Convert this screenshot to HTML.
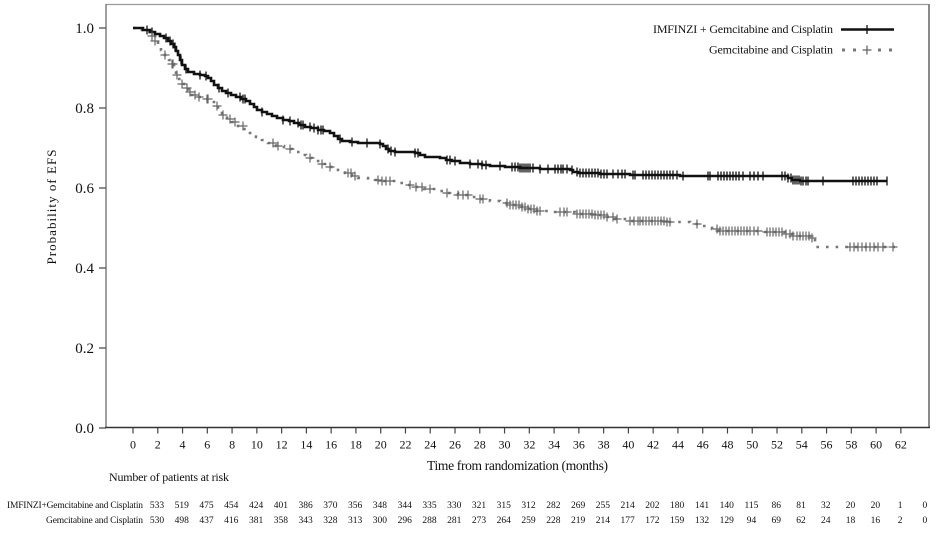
<!DOCTYPE html>
<html>
<head>
<meta charset="utf-8">
<style>
html,body{margin:0;padding:0;background:#fff;}
body{width:947px;height:538px;overflow:hidden;}
svg{display:block;font-family:"Liberation Serif",serif;}
</style>
</head>
<body>
<svg id="s" width="947" height="538" viewBox="0 0 947 538" xmlns="http://www.w3.org/2000/svg">
<rect width="947" height="538" fill="#fff"/>
<!-- frame -->
<line x1="106" y1="4.5" x2="929" y2="4.5" stroke="#9a9a9a" stroke-width="1.2"/>
<line x1="929" y1="4" x2="929" y2="428" stroke="#8a8a8a" stroke-width="2"/>
<line x1="106" y1="4" x2="106" y2="428" stroke="#777" stroke-width="1.4"/>
<line x1="105" y1="427.5" x2="930" y2="427.5" stroke="#333" stroke-width="1.4"/>
<!-- y ticks -->
<g stroke="#444" stroke-width="1.2">
<line x1="99" y1="28" x2="106" y2="28"/>
<line x1="99" y1="108" x2="106" y2="108"/>
<line x1="99" y1="188" x2="106" y2="188"/>
<line x1="99" y1="268" x2="106" y2="268"/>
<line x1="99" y1="348" x2="106" y2="348"/>
<line x1="99" y1="428" x2="106" y2="428"/>
</g>
<g font-size="15" text-anchor="end" fill="#111">
<text x="94" y="33">1.0</text>
<text x="94" y="113">0.8</text>
<text x="94" y="193">0.6</text>
<text x="94" y="273">0.4</text>
<text x="94" y="353">0.2</text>
<text x="94" y="433">0.0</text>
</g>
<text transform="translate(56,207) rotate(-90)" font-size="13" text-anchor="middle" fill="#111" textLength="115">Probability of EFS</text>
<g id="xt" stroke="#444" stroke-width="1.2"></g>
<g id="xl" font-size="12" text-anchor="middle" fill="#111"></g>
<text x="517.5" y="470" font-size="13.5" text-anchor="middle" fill="#111" textLength="181">Time from randomization (months)</text>
<text x="109" y="481" font-size="12" fill="#111" textLength="120">Number of patients at risk</text>
<text x="143" y="508" font-size="9.5" text-anchor="end" fill="#111" textLength="136">IMFINZI+Gemcitabine and Cisplatin</text>
<text x="143" y="523" font-size="9.5" text-anchor="end" fill="#111" textLength="97">Gemcitabine and Cisplatin</text>
<g id="r1" font-size="9.5" text-anchor="middle" fill="#111"></g>
<g id="r2" font-size="9.5" text-anchor="middle" fill="#111"></g>

<!-- legend -->
<text x="833" y="33" font-size="12" text-anchor="end" fill="#111" textLength="180">IMFINZI + Gemcitabine and Cisplatin</text>
<text x="833" y="53.5" font-size="12" text-anchor="end" fill="#111" textLength="124">Gemcitabine and Cisplatin</text>
<line x1="841" y1="29.5" x2="894" y2="29.5" stroke="#111" stroke-width="2.6"/>
<line x1="867" y1="25" x2="867" y2="34" stroke="#111" stroke-width="1.3"/>
<g fill="#777">
<rect x="842" y="48.5" width="3" height="3"/>
<rect x="853" y="48.5" width="3" height="3"/>
<rect x="878" y="48.5" width="3" height="3"/>
<rect x="889" y="48.5" width="3" height="3"/>
</g>
<g stroke="#666" stroke-width="1.3">
<line x1="862.5" y1="50" x2="871.5" y2="50"/>
<line x1="867" y1="45.5" x2="867" y2="54.5"/>
</g>

<!-- gray curve -->
<path id="gp" fill="none" stroke="#777" stroke-width="2.6" stroke-dasharray="2.6 7" d="M133,28 H140 V30 H148 V32 H152 V36 H155 V41 H158 V46 H161 V50 H165 V55 H169 V60 H172 V64 H174 V70 H176 V75 H178 V79 H181 V84 H184 V88 H188 V92 H192 V95 H197 V97 H205 V99 H210 V102 H214 V106 H218 V110 H222 V115 H227 V119 H232 V122 H238 V126 H244 V129 H250 V133 H256 V137 H262 V140 H268 V143 H276 V146 H284 V149 H292 V152 H300 V155 H306 V158 H312 V161 H320 V164 H330 V167 H338 V170 H345 V173 H352 V176 H358 V178 H368 V180 H380 V181 H398 V183 H406 V185 H414 V187 H424 V189 H436 V191 H446 V193 H458 V195 H470 V197 H480 V199 H490 V201 H500 V203 H510 V205 H520 V207 H528 V209 H536 V211 H550 V212 H575 V214 H595 V215 H605 V217 H615 V219 H628 V221 H665 V222 H690 V224 H700 V226 H712 V229 H718 V231 H760 V232 H785 V234 H793 V236 H812 V238 H815 V247 H895"/>
<!-- black curve -->
<path id="bp" fill="none" stroke="#111" stroke-width="2.6" d="M133,28 H143 V30 H150 V32 H155 V34 H160 V36 H164 V38 H168 V41 H171 V44 H174 V47 H176 V51 H178 V55 H180 V60 H182 V65 H185 V69 H188 V72 H194 V74 H200 V75 H205 V76 H208 V78 H211 V81 H214 V85 H218 V88 H222 V91 H226 V93 H231 V95 H236 V97 H241 V99 H246 V101 H250 V104 H254 V107 H257 V110 H262 V112 H267 V114 H272 V116 H277 V118 H283 V120 H289 V121 H294 V123 H299 V125 H305 V127 H311 V128 H318 V130 H324 V131 H330 V133 H334 V136 H338 V139 H342 V141 H350 V142 H358 V143 H380 V144 H383 V146 H386 V149 H389 V151 H395 V152 H415 V153 H420 V155 H425 V157 H440 V158 H446 V160 H452 V161 H460 V163 H470 V164 H482 V165 H490 V166 H505 V167 H520 V168 H540 V169 H570 V170 H573 V172 H578 V173 H600 V174 H630 V175 H680 V176 H788 V178 H792 V180 H800 V181 H887"/>
<g id="bm" stroke="#111" stroke-width="1.3"></g>
<g id="gm" stroke="#666" stroke-width="1.2"></g>
</svg>
<script>
(function(){
var NS="http://www.w3.org/2000/svg";
function el(p,tag,attrs,txt){var e=document.createElementNS(NS,tag);for(var k in attrs)e.setAttribute(k,attrs[k]);if(txt!==undefined)e.textContent=txt;p.appendChild(e);return e;}
var sp=24.77;
var xt=document.getElementById("xt"),xl=document.getElementById("xl");
for(var i=0;i<=31;i++){var x=133+sp*i;el(xt,"line",{x1:x,y1:428,x2:x,y2:433.5});el(xl,"text",{x:x,y:448.5},String(2*i));}
var a=[533,519,475,454,424,401,386,370,356,348,344,335,330,321,315,312,282,269,255,214,202,180,141,140,115,86,81,32,20,20,1,0];
var b=[530,498,437,416,381,358,343,328,313,300,296,288,281,273,264,259,228,219,214,177,172,159,132,129,94,69,62,24,18,16,2,0];
var r1=document.getElementById("r1"),r2=document.getElementById("r2");
for(var i=0;i<32;i++){var x=157+sp*i;el(r1,"text",{x:x,y:508},String(a[i]));el(r2,"text",{x:x,y:523},String(b[i]));}
function steps(d){var t=d.replace(/,/g," ").split(/\s+/).filter(Boolean);var pts=[];var cx=0,cy=0;var i=0;
 while(i<t.length){var c=t[i];if(c[0]=="M"){cx=+c.slice(1);cy=+t[i+1];i+=2;pts.push([cx,cy]);}
 else if(c[0]=="H"){cx=+c.slice(1);i++;pts.push([cx,cy]);}else if(c[0]=="V"){cy=+c.slice(1);i++;pts.push([cx,cy]);}else i++;}
 return pts;}
function yAt(pts,x){var y=pts[0][1];for(var i=0;i<pts.length;i++){if(pts[i][0]<=x)y=pts[i][1];else break;}return y;}
var bpts=steps(document.getElementById("bp").getAttribute("d"));
var gpts=steps(document.getElementById("gp").getAttribute("d"));
var bx=[147,152,166,170,173,175,181,186,200,206,219,228,240,243,245,262,283,290,298,301,303,310,314,318,321,323,340,352,367,380,388,391,395,415,418,447,450,455,470,478,482,486,500,512,515,518,520,522,524,526,528,530,533,540,548,555,558,561,563,567,572,577,580,583,586,589,592,595,598,601,604,607,613,618,622,625,633,635,643,646,649,652,655,658,661,664,667,670,673,677,683,708,710,718,721,724,727,730,733,736,739,743,750,754,758,763,782,785,788,791,793,795,797,799,801,803,806,808,823,853,856,859,862,865,868,871,874,877,887];
var gx=[152,155,165,172,173,177,182,187,190,195,199,207,208,217,223,230,235,243,273,278,290,310,322,330,348,351,355,378,382,386,390,410,416,422,430,447,458,463,468,480,483,507,510,513,516,519,522,525,528,531,534,537,540,560,564,567,577,580,583,586,589,592,595,598,601,604,607,613,617,630,634,638,640,643,646,649,652,655,658,661,664,667,670,697,717,720,723,726,729,732,735,738,741,744,747,750,754,758,767,770,773,776,779,782,786,790,793,797,800,803,806,809,812,850,854,858,862,866,870,874,878,883,893];
var bm=document.getElementById("bm"),gm=document.getElementById("gm");
var d="";for(var i=0;i<bx.length;i++){var y=yAt(bpts,bx[i]);d+="M"+bx[i]+" "+(y-4.5)+"v9";}
el(bm,"path",{d:d,fill:"none"});
d="";for(var i=0;i<gx.length;i++){var y=yAt(gpts,gx[i]);d+="M"+gx[i]+" "+(y-4.5)+"v9M"+(gx[i]-4.5)+" "+y+"h9";}
el(gm,"path",{d:d,fill:"none"});
})();
</script>
</body>
</html>
